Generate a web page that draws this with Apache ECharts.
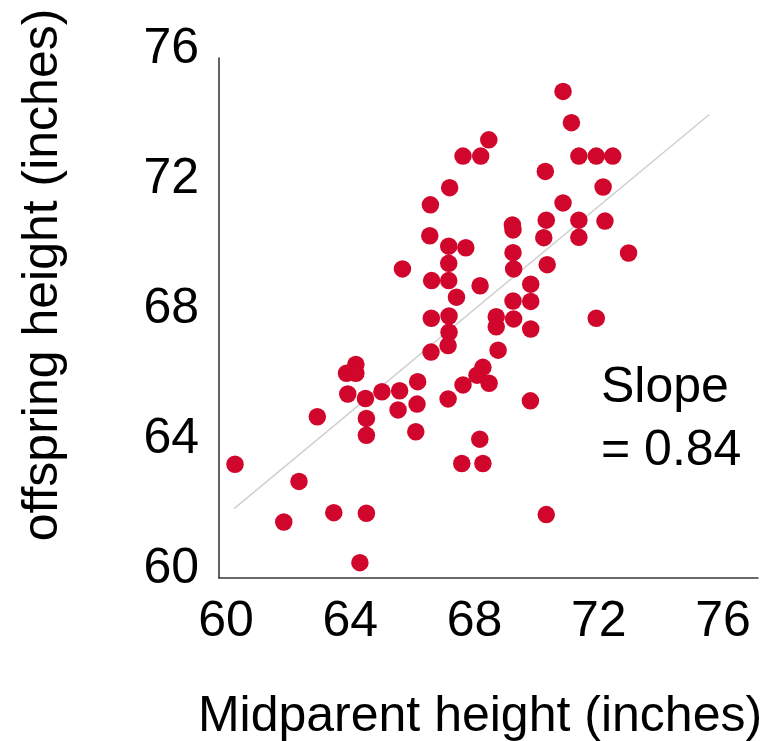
<!DOCTYPE html>
<html>
<head>
<meta charset="utf-8">
<script src="https://cdn.jsdelivr.net/npm/echarts@6/dist/echarts.min.js"></script>
<style>
html,body{margin:0;padding:0;background:#fff;}
#chart{width:773px;height:741px;}
</style>
</head>
<body>
<div id="chart"></div>
<script>
// Midparent height (x) and offspring height (y), inches
const midparent = [
  60.29, 62.35, 61.86, 63.47, 64.52, 64.31, 62.94, 63.92, 63.88, 64.18,
  64.18, 64.49, 64.52, 64.52, 65.02, 65.59, 65.54, 66.17, 66.15, 66.11,
  66.60, 67.18, 67.15, 69.81, 68.76, 67.15, 67.63, 68.08, 68.27, 68.47,
  69.80, 68.17, 67.59, 68.27, 70.31, 70.85, 71.12, 68.46, 67.63, 68.20,
  71.36, 71.92, 72.45, 70.28, 67.20, 72.14, 66.58, 70.85, 70.31, 71.36,
  72.20, 69.22, 69.24, 66.56, 70.23, 71.36, 67.17, 67.72, 72.96, 69.24,
  67.17, 65.68, 69.26, 70.34, 66.62, 67.17, 68.18, 69.81, 67.42, 69.24,
  69.81, 66.61, 67.18, 68.70, 68.70, 69.26, 71.92
];
const offspring = [
  63.24, 62.71, 61.46, 61.75, 61.73, 60.21, 64.70, 65.40, 66.04, 66.31,
  66.04, 65.26, 64.65, 64.13, 65.47, 65.50, 64.91, 65.78, 65.09, 64.24,
  66.69, 67.30, 66.89, 67.40, 66.75, 65.25, 65.68, 65.98, 66.22, 65.73,
  65.19, 64.01, 63.26, 63.26, 61.69, 74.71, 73.75, 73.22, 72.72, 72.72,
  72.72, 72.72, 72.72, 72.25, 71.75, 71.77, 71.22, 71.28, 70.75, 70.75,
  70.72, 70.60, 70.45, 70.27, 70.21, 70.22, 69.95, 69.90, 69.74, 69.75,
  69.42, 69.25, 69.25, 69.38, 68.89, 68.89, 68.73, 68.78, 68.38, 68.26,
  68.25, 67.73, 67.80, 67.78, 67.47, 67.71, 67.73
];
// Regression (trend) line endpoints
const fitX = [60.26, 75.56];
const fitY = [61.87, 74.00];
// Axis ticks
const xTicks = [60, 64, 68, 72, 76];
const yTicks = [60, 64, 68, 72, 76];
const xTitle = 'Midparent height (inches)';
const yTitle = 'offspring height (inches)';
const slopeLabel = ['Slope', '= 0.84'];

const FONT = "'Liberation Sans', Arial, Helvetica, sans-serif";
const points = midparent.map((x, i) => [x, offspring[i]]);
const fitLine = fitX.map((x, i) => [x, fitY[i]]);

const chart = echarts.init(document.getElementById('chart'), null, {renderer: 'canvas'});
const hiddenAxis = {show: true, axisLabel: {show: false}, axisTick: {show: false}, splitLine: {show: false}};
chart.setOption({
  animation: false,
  backgroundColor: '#fff',
  grid: [
    {left: 219, top: 58, right: 15, bottom: 163},
    {left: 226, top: 49.5, right: 50, bottom: 171.5}
  ],
  xAxis: [
    Object.assign({gridIndex: 0, type: 'value', min: 0, max: 1,
      axisLine: {show: true, lineStyle: {color: '#3a3a3a', width: 1.6}}}, hiddenAxis),
    {gridIndex: 1, type: 'value', min: xTicks[0], max: xTicks[xTicks.length - 1], interval: 4,
      axisLine: {show: false}, axisTick: {show: false}, splitLine: {show: false},
      axisLabel: {show: true, fontSize: 50, fontFamily: FONT, color: '#000', margin: 28,
        showMinLabel: true, showMaxLabel: true}}
  ],
  yAxis: [
    Object.assign({gridIndex: 0, type: 'value', min: 0, max: 1,
      axisLine: {show: true, lineStyle: {color: '#3a3a3a', width: 1.6}}}, hiddenAxis),
    {gridIndex: 1, type: 'value', min: yTicks[0], max: yTicks[yTicks.length - 1], interval: 4,
      axisLine: {show: false}, axisTick: {show: false}, splitLine: {show: false},
      axisLabel: {show: true, fontSize: 50, fontFamily: FONT, color: '#000', margin: 27,
        showMinLabel: true, showMaxLabel: true}}
  ],
  series: [
    {type: 'line', xAxisIndex: 1, yAxisIndex: 1, data: fitLine, symbol: 'none',
      lineStyle: {color: '#d0d0d0', width: 1.6}, z: 1, silent: true},
    {type: 'scatter', xAxisIndex: 1, yAxisIndex: 1, data: points, symbolSize: 17.5,
      itemStyle: {color: '#d1062c', opacity: 1}, z: 2}
  ],
  graphic: [
    {type: 'text', x: 480, y: 717, style: {text: xTitle, fontSize: 50, fontFamily: FONT,
      fill: '#000', align: 'center', verticalAlign: 'middle'}},
    {type: 'text', x: 43, y: 275, rotation: Math.PI / 2, style: {text: yTitle, fontSize: 50,
      fontFamily: FONT, fill: '#000', align: 'center', verticalAlign: 'middle'}},
    {type: 'text', x: 601, y: 388, style: {text: slopeLabel[0], fontSize: 50, fontFamily: FONT,
      fill: '#000', align: 'left', verticalAlign: 'middle'}},
    {type: 'text', x: 601, y: 451, style: {text: slopeLabel[1], fontSize: 50, fontFamily: FONT,
      fill: '#000', align: 'left', verticalAlign: 'middle'}}
  ]
});
</script>
</body>
</html>
